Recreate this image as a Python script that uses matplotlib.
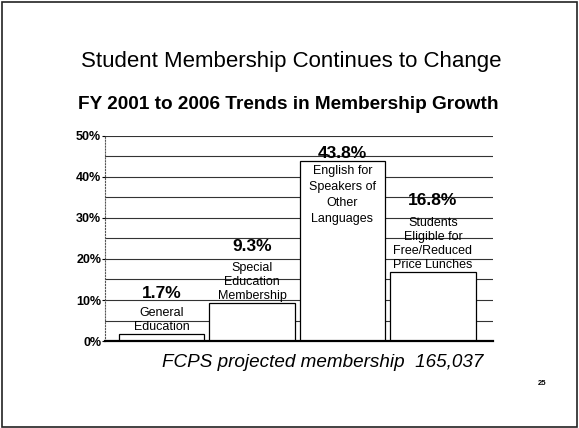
import matplotlib
matplotlib.use("Agg")
import matplotlib.pyplot as plt
from matplotlib.patches import Rectangle

# data
categories = ["General\nEducation",
              "Special\nEducation\nMembership",
              "English for\nSpeakers of\nOther\nLanguages",
              "Students\nEligible for\nFree/Reduced\nPrice Lunches"]
growth = [1.7, 9.3, 43.8, 16.8]
value_labels = ["1.7%", "9.3%", "43.8%", "16.8%"]
y_ticks = [0, 10, 20, 30, 40, 50]
y_tick_labels = ["0%", "10%", "20%", "30%", "40%", "50%"]

plt.rcParams['font.family'] = ['Liberation Sans', 'DejaVu Sans']

fig = plt.figure(figsize=(5.79, 4.28), dpi=100)
fig.patch.set_facecolor("white")

# slide border
fig.patches.append(Rectangle((0.004, 0.003), 0.992, 0.992, transform=fig.transFigure,
                             fill=False, edgecolor="#222222", linewidth=1.2))

ax = fig.add_axes([0.182, 0.203, 0.669, 0.480])

x = list(range(len(growth)))
ax.bar(x, growth, width=0.94, color="white", edgecolor="black",
       linewidth=0.9, zorder=3)

# gridlines every 5%
for g in range(5, 55, 5):
    ax.axhline(g, color="#333333", linewidth=0.8, zorder=1)

ax.set_xlim(-0.62, 3.66)
ax.set_ylim(0, 50)
ax.set_xticks([])
ax.set_yticks(y_ticks)
ax.set_yticklabels(y_tick_labels, fontsize=9, fontweight="bold")
ax.tick_params(axis="y", length=2, width=0.8, pad=1)

for s in ["top", "right"]:
    ax.spines[s].set_visible(False)
ax.spines["left"].set_linestyle(":")
ax.spines["left"].set_color("#555555")
ax.spines["bottom"].set_linewidth(1.6)
ax.spines["bottom"].set_zorder(5)

line_pt = 11.5
for i, (cat, v, lab) in enumerate(zip(categories, growth, value_labels)):
    n = cat.count("\n") + 1
    if v > 40:
        # tall bar: text inside, value just above
        ax.annotate(lab, (i, v), xytext=(0, 0), textcoords="offset points",
                    ha="center", va="bottom", fontsize=12.5, fontweight="bold", zorder=6)
        ax.annotate(cat, (i, v), xytext=(0, -3), textcoords="offset points",
                    ha="center", va="top", fontsize=9, linespacing=1.45, zorder=6)
    else:
        ax.annotate(cat, (i, v), xytext=(0, 1), textcoords="offset points",
                    ha="center", va="bottom", fontsize=9, linespacing=1.2, zorder=6)
        ax.annotate(lab, (i, v), xytext=(0, n * line_pt + 0.5), textcoords="offset points",
                    ha="center", va="bottom", fontsize=12.5, fontweight="bold", zorder=6)

fig.text(0.503, 0.857, "Student Membership Continues to Change",
         ha="center", va="center", fontsize=16)
fig.text(0.498, 0.755, "FY 2001 to 2006 Trends in Membership Growth",
         ha="center", va="center", fontsize=13.7, fontweight="bold")
fig.text(0.557, 0.152, "FCPS projected membership  165,037",
         ha="center", va="center", fontsize=13.6, style="italic")
fig.text(0.937, 0.105, "25", ha="center", va="center", fontsize=5.5, fontweight="bold")

fig.savefig("out.png", dpi=100)
